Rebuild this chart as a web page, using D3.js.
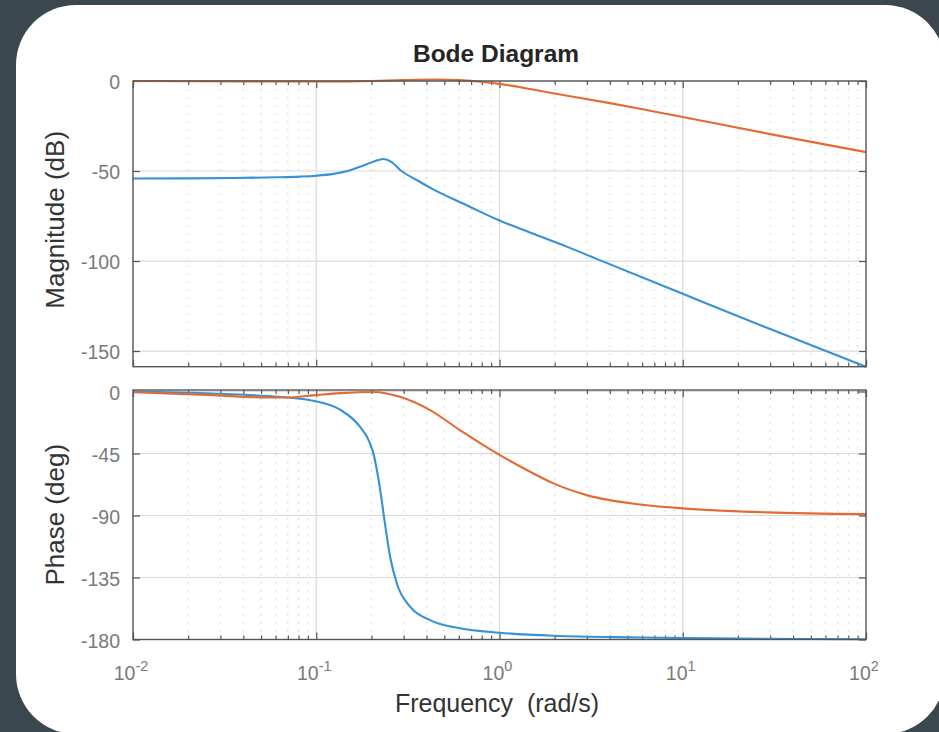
<!DOCTYPE html>
<html><head><meta charset="utf-8">
<script src="https://cdn.jsdelivr.net/npm/d3@7"></script>
<style>html,body{margin:0;padding:0;background:#3b474e;} svg{display:block} text{white-space:pre}</style>
</head><body>
<svg id="chart" width="939" height="732"></svg>
<script>
// ---------- data ----------
const blueMagFreq = [0.01, 0.02, 0.035, 0.06, 0.0815, 0.1, 0.124, 0.153, 0.175, 0.205, 0.232, 0.258, 0.286, 0.353, 0.435, 0.662, 1.0, 1.53, 2.33, 3.39, 10, 30, 100];
const blueMagDb   = [-54.2, -54.1, -53.9, -53.5, -53.1, -52.6, -51.6, -49.6, -47.5, -44.8, -43.3, -45.0, -49.3, -55.0, -60.2, -69.0, -77.5, -84.8, -92.0, -98.8, -118.2, -137.8, -158.7];

const orangeMagFreq = [0.01, 0.05, 0.12, 0.2, 0.3, 0.45, 0.6, 0.8, 1.0, 1.5, 2.22, 4, 6.63, 10, 30, 100];
const orangeMagDb   = [0, -0.2, -0.3, 0, 0.5, 0.8, 0.5, -0.4, -1.6, -4.6, -7.8, -12.3, -16.5, -20, -29.5, -39.5];

const bluePhaseFreq = [0.01, 0.0274, 0.0537, 0.096, 0.135, 0.173, 0.1965, 0.205, 0.222, 0.237, 0.253, 0.275, 0.325, 0.418, 0.608, 1.0, 1.97, 5.84, 20, 100];
const bluePhaseDeg  = [0, -1.4, -3.3, -6.7, -13.2, -25.5, -37.6, -44.9, -69.1, -95.7, -119.9, -139.2, -156.2, -165.9, -171.9, -175.1, -177.3, -178.5, -179.4, -179.8];

const orangePhaseFreq = [0.01, 0.0274, 0.0537, 0.069, 0.096, 0.135, 0.205, 0.286, 0.418, 0.608, 1.0, 1.41, 1.97, 2.99, 5.84, 10, 28.7, 100];
const orangePhaseDeg  = [-0.5, -2.6, -4.3, -4.3, -2.8, -1.2, -0.3, -3.8, -13.5, -28, -46, -57, -66.7, -75.2, -82, -84.8, -87.7, -89];

const magTicks = [0, -50, -100, -150];
const phaseTicks = [0, -45, -90, -135, -180];
const xTickExps = [-2, -1, 0, 1, 2];
const minorMult = [2, 3, 4, 5, 6, 7, 8, 9];

const titleText = "Bode Diagram";
const magLabel = "Magnitude (dB)";
const phaseLabel = "Phase (deg)";
const xLabel = "Frequency  (rad/s)";

// ---------- layout ----------
const FONT = "'Liberation Sans', Arial, Helvetica, sans-serif";
const BLUE = "#3592d6", ORANGE = "#e46a33";
const svg = d3.select("#chart");
svg.append("rect").attr("width", 939).attr("height", 732).attr("fill", "#3b474e");
svg.append("rect").attr("x", 16).attr("y", 5).attr("width", 929).attr("height", 729)
  .attr("rx", 60).attr("ry", 60).attr("fill", "#ffffff");

const xL = 133, xR = 866;
const x = d3.scaleLog().domain([0.01, 100]).range([xL, xR]);
const yMag = d3.scaleLinear().domain([-158.7, 0]).range([366.7, 81]);
const yPh = d3.scaleLinear().domain([-180, 1.1]).range([639.5, 390]);

const xMajor = xTickExps.map(e => Math.pow(10, e));
const xMinor = [];
xTickExps.slice(0, -1).forEach(e => minorMult.forEach(m => xMinor.push(m * Math.pow(10, e))));

function panel(y, yTicks, series, showX) {
  const g = svg.append("g");
  const [yB, yT] = y.range();
  g.selectAll(".mg").data(xMinor).join("line")
    .attr("x1", d => x(d)).attr("x2", d => x(d)).attr("y1", yT).attr("y2", yB)
    .attr("stroke", "#c9c9c9").attr("stroke-width", 1).attr("stroke-dasharray", "1.5,6.5");
  g.selectAll(".Mg").data(xMajor.slice(1, -1)).join("line")
    .attr("x1", d => x(d)).attr("x2", d => x(d)).attr("y1", yT).attr("y2", yB)
    .attr("stroke", "#dadada").attr("stroke-width", 1.2);
  g.selectAll(".Yg").data(yTicks).join("line")
    .attr("x1", xL).attr("x2", xR).attr("y1", d => y(d)).attr("y2", d => y(d))
    .attr("stroke", "#dadada").attr("stroke-width", 1.2);

  const styleAxis = sel => { sel.select(".domain").remove(); sel.selectAll("line").attr("stroke", "#555").attr("stroke-width", 1.2); sel.selectAll("text").remove(); };
  g.append("g").attr("transform", `translate(0,${yB})`).call(d3.axisBottom(x).tickValues(xMajor).tickSizeInner(-7).tickSizeOuter(0)).call(styleAxis);
  g.append("g").attr("transform", `translate(0,${yB})`).call(d3.axisBottom(x).tickValues(xMinor).tickSizeInner(-4).tickSizeOuter(0)).call(styleAxis);
  g.append("g").attr("transform", `translate(0,${yT})`).call(d3.axisTop(x).tickValues(xMajor).tickSizeInner(-7).tickSizeOuter(0)).call(styleAxis);
  g.append("g").attr("transform", `translate(0,${yT})`).call(d3.axisTop(x).tickValues(xMinor).tickSizeInner(-4).tickSizeOuter(0)).call(styleAxis);
  g.append("g").attr("transform", `translate(${xL},0)`).call(d3.axisLeft(y).tickValues(yTicks).tickSizeInner(-7).tickSizeOuter(0)).call(styleAxis);
  g.append("g").attr("transform", `translate(${xR},0)`).call(d3.axisRight(y).tickValues(yTicks).tickSizeInner(-7).tickSizeOuter(0)).call(styleAxis);

  series.forEach(s => {
    const pts = s.f.map((f, i) => [f, s.v[i]]);
    g.append("path").datum(pts)
      .attr("d", d3.line().x(d => x(d[0])).y(d => y(d[1])).curve(d3.curveMonotoneX))
      .attr("fill", "none").attr("stroke", s.c).attr("stroke-width", 2.1);
  });

  g.append("rect").attr("x", xL).attr("y", yT).attr("width", xR - xL).attr("height", yB - yT)
    .attr("fill", "none").attr("stroke", "#555").attr("stroke-width", 1.4);

  g.selectAll(".yl").data(yTicks).join("text")
    .attr("x", 120).attr("y", d => y(d) + 8)
    .attr("text-anchor", "end").attr("font-family", FONT).attr("font-size", 19.5)
    .attr("fill", "#7a7a7a").text(d => d);

  if (showX) {
    const t = g.selectAll(".xl").data(xTickExps).join("text")
      .attr("x", d => x(Math.pow(10, d)) - 2).attr("y", 680)
      .attr("text-anchor", "middle").attr("font-family", FONT).attr("font-size", 19.5)
      .attr("fill", "#7a7a7a");
    t.append("tspan").text("10");
    t.append("tspan").attr("dy", -9).attr("font-size", 14.5).text(d => d);
  }
  return g;
}

panel(yMag, magTicks, [
  { f: blueMagFreq, v: blueMagDb, c: BLUE },
  { f: orangeMagFreq, v: orangeMagDb, c: ORANGE }
], false);
panel(yPh, phaseTicks, [
  { f: bluePhaseFreq, v: bluePhaseDeg, c: BLUE },
  { f: orangePhaseFreq, v: orangePhaseDeg, c: ORANGE }
], true);

svg.append("text").attr("x", 496).attr("y", 62).attr("text-anchor", "middle")
  .attr("font-family", FONT).attr("font-weight", "bold").attr("font-size", 24.5)
  .attr("fill", "#262626").text(titleText);
svg.append("text").attr("x", 497).attr("y", 712).attr("text-anchor", "middle")
  .attr("font-family", FONT).attr("font-size", 25).attr("fill", "#333").text(xLabel);
svg.append("text").attr("transform", `translate(64,${(81 + 366.7) / 2 - 4}) rotate(-90)`).attr("text-anchor", "middle")
  .attr("font-family", FONT).attr("font-size", 26).attr("fill", "#333").text(magLabel);
svg.append("text").attr("transform", `translate(64,${(390 + 639.5) / 2}) rotate(-90)`).attr("text-anchor", "middle")
  .attr("font-family", FONT).attr("font-size", 26).attr("fill", "#333").text(phaseLabel);
</script>
</body></html>
